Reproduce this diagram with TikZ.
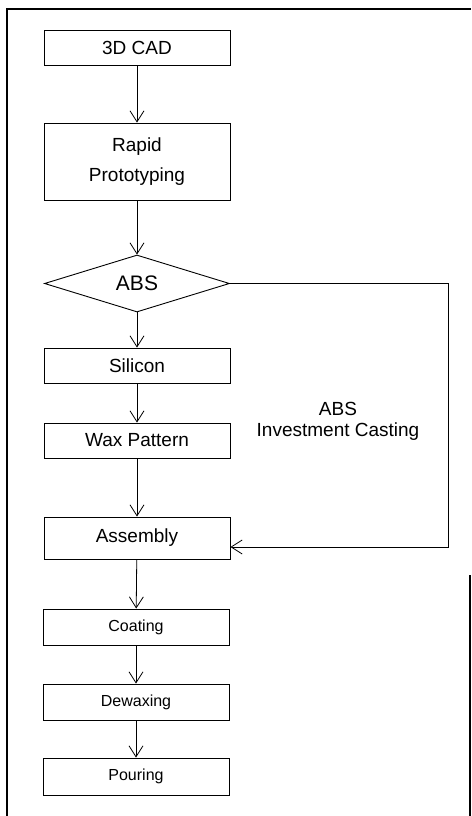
\documentclass[tikz,border=0pt]{standalone}
\usepackage{fontspec}
\setmainfont{Liberation Sans}
\usetikzlibrary{shapes.geometric,arrows.meta}

\tikzset{
  stepbox/.style={draw, line width=0.9pt, minimum width=186pt, inner sep=0pt,
    font=\fontsize{19}{30}\selectfont, align=center},
  smallbox/.style={stepbox, minimum height=36pt, font=\fontsize{16}{20}\selectfont},
  flow/.style={draw, line width=0.8pt, -{Straight Barb[length=11pt,width=14pt]}}
}

\begin{document}
\begin{tikzpicture}[x=1pt,y=-1pt]
\useasboundingbox (0,0) rectangle (471,816);

% frame of the scanned figure
\draw[line width=1.2pt] (7,816) -- (7,9) -- (471,9);
\draw[line width=1.2pt] (470,575) -- (470,816);

\node[stepbox, minimum height=35pt] (cad) at (137,47.5) {3D CAD};
\node[stepbox, minimum height=77pt] (rp) at (137,161.5) {Rapid\\Prototyping};
\node[draw, line width=0.9pt, diamond, aspect=3.25, minimum width=185pt, minimum height=57pt,
  inner sep=0pt, font=\fontsize{21}{24}\selectfont] (abs) at (137,283.5) {ABS};
\node[stepbox, minimum height=35pt] (sil) at (137,365.5) {Silicon};
\node[stepbox, minimum height=35pt] (wax) at (137,440.5) {Wax Pattern};
\node[stepbox, minimum height=42pt] (asm) at (137,538) {Assembly};
\node[smallbox] (coat) at (136,627) {Coating};
\node[smallbox] (dew) at (136,702) {Dewaxing};
\node[smallbox, minimum height=37pt] (pour) at (136,776.5) {Pouring};

\path[flow] (cad) -- (rp);
\path[flow] (rp) -- (abs);
\path[flow] (abs) -- (sil);
\path[flow] (sil) -- (wax);
\path[flow] (wax) -- (asm);
\path[flow] (asm) -- (coat);
\path[flow] (coat) -- (dew);
\path[flow] (dew) -- (pour);

% ABS branch straight to assembly
\coordinate (turn) at (448,283.5);
\path[flow] (abs.east) -- (turn) |- ([yshift=-9pt]asm.east);

\node[align=center, font=\fontsize{19}{21}\selectfont] (lbl) at (338,421) {ABS\\Investment Casting};
\end{tikzpicture}
\end{document}
